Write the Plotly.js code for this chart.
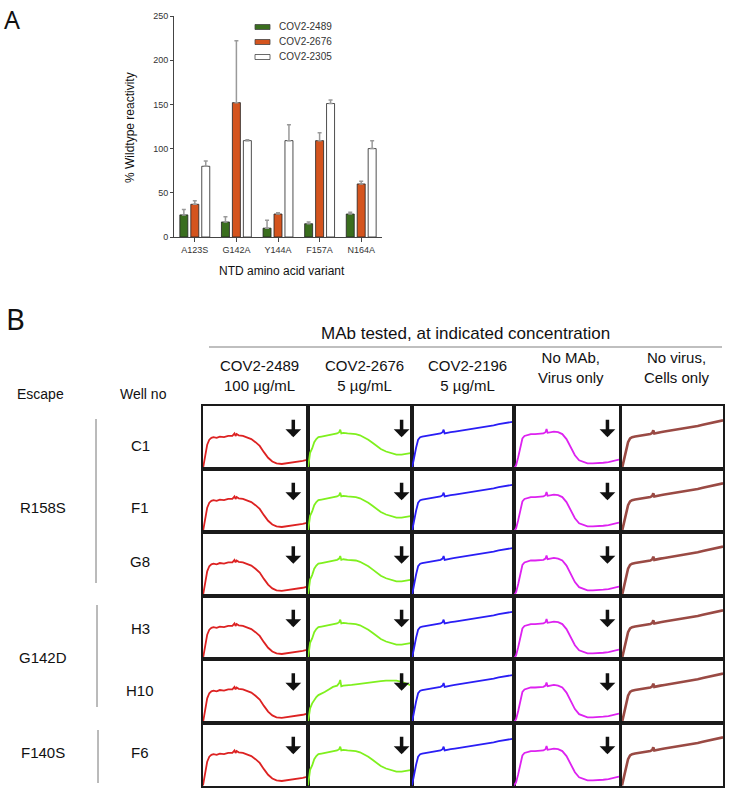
<!DOCTYPE html>
<html>
<head>
<meta charset="utf-8">
<script src="https://cdn.plot.ly/plotly-3.0.1.min.js"></script>
<style>html,body{margin:0;padding:0;background:#fff;}#chart{width:729px;height:795px;}</style>
</head>
<body>
<div id="chart"></div>
<script>
// ---------- Panel A data ----------
const variants = ["A123S", "G142A", "Y144A", "F157A", "N164A"];
const seriesNames = ["COV2-2489", "COV2-2676", "COV2-2305"];
const vals2489 = [25, 17, 10, 15, 26];
const vals2676 = [37, 152, 26, 109, 60];
const vals2305 = [80, 109, 109, 151, 100];
const err2489 = [6, 6, 9, 2, 2];
const err2676 = [4, 70, 1.5, 9, 3];
const err2305 = [6, 1, 18, 4, 9];
const yTicks = [0, 50, 100, 150, 200, 250];

// ---------- Panel B data ----------
const mabHeaders = ["COV2-2489<br>100 µg/mL", "COV2-2676<br>5 µg/mL", "COV2-2196<br>5 µg/mL", "No MAb,<br>Virus only", "No virus,<br>Cells only"];
const wells = ["C1", "F1", "G8", "H3", "H10", "F6"];
const escapes = ["R158S", "G142D", "F140S"];
const tGrid = [0, 0.02, 0.04, 0.06, 0.08, 0.1, 0.13, 0.16, 0.2, 0.24, 0.28, 0.3, 0.31, 0.32, 0.34, 0.38, 0.42, 0.46, 0.5, 0.54, 0.58, 0.62, 0.66, 0.7, 0.75, 0.8, 0.85, 0.9, 0.95, 1];
const curveRed = [0, 0.2, 0.38, 0.46, 0.49, 0.5, 0.49, 0.51, 0.5, 0.52, 0.52, 0.56, 0.52, 0.55, 0.53, 0.52, 0.5, 0.47, 0.42, 0.36, 0.26, 0.17, 0.11, 0.08, 0.07, 0.08, 0.09, 0.1, 0.12, 0.14];
const curveGreen = [0, 0.25, 0.32, 0.42, 0.47, 0.5, 0.51, 0.52, 0.53, 0.55, 0.56, 0.58, 0.62, 0.56, 0.57, 0.56, 0.56, 0.55, 0.53, 0.5, 0.46, 0.41, 0.36, 0.31, 0.27, 0.24, 0.22, 0.22, 0.23, 0.25];
const curveGreenH10 = [0, 0.22, 0.3, 0.36, 0.4, 0.43, 0.45, 0.48, 0.52, 0.56, 0.58, 0.62, 0.67, 0.57, 0.58, 0.58, 0.59, 0.6, 0.61, 0.61, 0.62, 0.63, 0.64, 0.65, 0.66, 0.66, 0.66, 0.64, 0.61, 0.58];
const curveBlue = [0, 0.18, 0.33, 0.46, 0.5, 0.51, 0.52, 0.53, 0.54, 0.55, 0.56, 0.58, 0.62, 0.56, 0.57, 0.58, 0.59, 0.6, 0.61, 0.62, 0.63, 0.64, 0.65, 0.66, 0.68, 0.69, 0.71, 0.72, 0.74, 0.75];
const curveMagenta = [0, 0.05, 0.18, 0.35, 0.48, 0.52, 0.54, 0.55, 0.55, 0.56, 0.56, 0.58, 0.63, 0.57, 0.58, 0.59, 0.58, 0.55, 0.47, 0.34, 0.21, 0.13, 0.1, 0.08, 0.08, 0.08, 0.09, 0.1, 0.12, 0.14];
const curveBrown = [0, 0.15, 0.3, 0.42, 0.48, 0.5, 0.51, 0.52, 0.53, 0.54, 0.55, 0.57, 0.61, 0.56, 0.57, 0.58, 0.59, 0.6, 0.62, 0.63, 0.64, 0.65, 0.66, 0.67, 0.68, 0.7, 0.72, 0.73, 0.75, 0.77];

// ---------- styling / geometry ----------
const W = 729, H = 795;
const px = v => v / W;
const py = v => 1 - v / H;
const FONT = "Liberation Sans, Arial, sans-serif";
const barColors = ["#3a6e1e", "#d4541e", "#ffffff"];
const colCurves = [curveRed, curveGreen, curveBlue, curveMagenta, curveBrown];
const colColors = ["#dd2222", "#7ff01e", "#2a1ef5", "#dd22f0", "#9a4a44"];
const colWidths = [1.8, 1.8, 1.8, 1.8, 2.6];
const colArrow = [true, true, false, true, false];
const arrowX = [0.86, 0.9, 0, 0.89, 0];
const colL = [203, 308, 412, 514, 622];
const colR = [308, 412, 514, 619, 723];
const rowT = [406, 469, 532, 596, 659, 723];
const rowB = [469, 532, 596, 659, 723, 786];

const data = [];
const errs = [err2489, err2676, err2305];
[vals2489, vals2676, vals2305].forEach((v, i) => {
  data.push({
    type: "bar", x: variants, y: v, name: seriesNames[i], xaxis: "x", yaxis: "y",
    marker: {color: barColors[i], line: {color: "#222", width: 0.8}},
    error_y: {type: "data", array: errs[i], arrayminus: v.map(() => 0), symmetric: false,
              color: "#9a9a9a", thickness: 1.5, width: 2},
    showlegend: false, hoverinfo: "skip"
  });
});

const layout = {
  width: W, height: H, margin: {l: 0, r: 0, t: 0, b: 0},
  paper_bgcolor: "#fff", plot_bgcolor: "rgba(0,0,0,0)",
  showlegend: false,
  barmode: "group", bargap: 0.21, bargroupgap: 0.27,
  font: {family: FONT, color: "#222"},
  xaxis: {domain: [px(174), px(382)], anchor: "y", type: "category", range: [-0.5, 4.5],
          showline: true, linecolor: "#444", linewidth: 1, ticks: "outside", ticklen: 4,
          tickcolor: "#444", showgrid: false, zeroline: false,
          tickfont: {size: 9, color: "#333", family: FONT}},
  yaxis: {domain: [py(237), py(16)], anchor: "x", range: [0, 250], tickvals: yTicks,
          showline: true, linecolor: "#444", linewidth: 1, ticks: "outside", ticklen: 3,
          tickcolor: "#444", showgrid: false, zeroline: false,
          tickfont: {size: 9, color: "#333", family: FONT}},
  shapes: [], annotations: []
};

// Panel A legend (custom)
seriesNames.forEach((n, i) => {
  const yc = 27 + i * 15;
  layout.shapes.push({type: "rect", xref: "paper", yref: "paper",
    x0: px(255), x1: px(270), y0: py(yc + 2.5), y1: py(yc - 2.5),
    fillcolor: barColors[i], line: {color: "#444", width: 0.8}});
  layout.annotations.push({xref: "paper", yref: "paper", x: px(277), y: py(yc), text: n,
    showarrow: false, xanchor: "left", yanchor: "middle", font: {size: 10, color: "#333"}});
});
layout.annotations.push({xref: "paper", yref: "paper", x: px(130), y: py(128), text: "% Wildtype reactivity",
  textangle: -90, showarrow: false, xanchor: "center", yanchor: "middle", font: {size: 12, color: "#111"}});
layout.annotations.push({xref: "paper", yref: "paper", x: px(282), y: py(271), text: "NTD amino acid variant",
  showarrow: false, xanchor: "center", yanchor: "middle", font: {size: 12, color: "#111"}});
layout.annotations.push({xref: "paper", yref: "paper", x: px(2), y: py(0), text: "A",
  showarrow: false, xanchor: "left", yanchor: "top", font: {size: 25, color: "#111", family: "Noto Sans, DejaVu Sans"}});
layout.annotations.push({xref: "paper", yref: "paper", x: px(4), y: py(318), text: "B",
  showarrow: false, xanchor: "left", yanchor: "middle", font: {size: 29, color: "#111", family: "Noto Sans, DejaVu Sans"}});

// Panel B headers
layout.annotations.push({xref: "paper", yref: "paper", x: px(465), y: py(333), text: "MAb tested, at indicated concentration",
  showarrow: false, xanchor: "center", yanchor: "middle", font: {size: 17, color: "#111"}});
layout.shapes.push({type: "line", xref: "paper", yref: "paper", x0: px(209), x1: px(722), y0: py(347), y1: py(347),
  line: {color: "#aaaaaa", width: 1.5}});
const headerY = [375, 375, 375, 367, 367];
mabHeaders.forEach((t, c) => {
  layout.annotations.push({xref: "paper", yref: "paper", x: px((colL[c] + colR[c]) / 2 + 4), y: py(headerY[c]), text: t,
    showarrow: false, xanchor: "center", yanchor: "middle", font: {size: 15, color: "#111"}});
});
layout.annotations.push({xref: "paper", yref: "paper", x: px(40), y: py(394), text: "Escape",
  showarrow: false, xanchor: "center", yanchor: "middle", font: {size: 14, color: "#111"}});
layout.annotations.push({xref: "paper", yref: "paper", x: px(143), y: py(394), text: "Well no",
  showarrow: false, xanchor: "center", yanchor: "middle", font: {size: 14, color: "#111"}});
const wellY = [445, 507, 561, 628, 690, 752];
wells.forEach((w, r) => {
  layout.annotations.push({xref: "paper", yref: "paper", x: px(140), y: py(wellY[r]), text: w,
    showarrow: false, xanchor: "center", yanchor: "middle", font: {size: 15, color: "#111"}});
});
const escY = [507, 657, 752];
const escLines = [[96, 419, 583], [97, 605, 707], [98, 730, 783]];
escapes.forEach((e, i) => {
  layout.annotations.push({xref: "paper", yref: "paper", x: px(43), y: py(escY[i]), text: e,
    showarrow: false, xanchor: "center", yanchor: "middle", font: {size: 15, color: "#111"}});
  const L = escLines[i];
  layout.shapes.push({type: "line", xref: "paper", yref: "paper", x0: px(L[0]), x1: px(L[0]), y0: py(L[1]), y1: py(L[2]),
    line: {color: "#777", width: 1}});
});

// Panel B cells
wells.forEach((w, r) => {
  for (let c = 0; c < 5; c++) {
    const n = r * 5 + c + 2;
    let yv = colCurves[c];
    if (w === "H10" && c === 1) yv = curveGreenH10;
    data.push({type: "scatter", mode: "lines", x: tGrid, y: yv, xaxis: "x" + n, yaxis: "y" + n,
      line: {color: colColors[c], width: colWidths[c]}, showlegend: false, hoverinfo: "skip"});
    const ax = {showline: true, mirror: true, linecolor: "#1a1a1a", linewidth: 2, showgrid: false,
      zeroline: false, showticklabels: false, ticks: "", fixedrange: true};
    layout["xaxis" + n] = Object.assign({}, ax, {domain: [px(colL[c]), px(colR[c])], range: [0, 1], anchor: "y" + n});
    layout["yaxis" + n] = Object.assign({}, ax, {domain: [py(rowB[r]), py(rowT[r])], range: [-0.01, 1], anchor: "x" + n});
    if (colArrow[c]) {
      layout.annotations.push({xref: "x" + n, yref: "y" + n, x: arrowX[c], y: 0.5, ax: 0, ay: -19,
        text: "", showarrow: true, arrowhead: 1, arrowwidth: 3.5, arrowsize: 0.75, arrowcolor: "#111"});
    }
  }
});

Plotly.newPlot("chart", data, layout, {staticPlot: true, displayModeBar: false});
</script>
</body>
</html>
